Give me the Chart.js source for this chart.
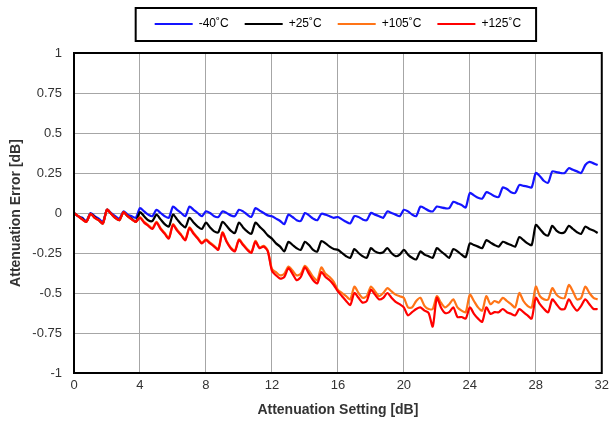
<!DOCTYPE html>
<html>
<head>
<meta charset="utf-8">
<title>Attenuation Error vs Setting</title>
<script src="https://cdn.jsdelivr.net/npm/chart.js@4.4.1/dist/chart.umd.min.js"></script>
<style>
  html, body { margin: 0; padding: 0; background: #fff; }
  #wrap { width: 614px; height: 427px; position: relative; }
</style>
</head>
<body>
<div id="wrap"><canvas id="attnChart"></canvas></div>
<script>
// attenuation setting in dB (0.25 dB step)
const settings = [
  0, 0.25, 0.5, 0.75, 1, 1.25, 1.5, 1.75, 2, 2.25, 2.5, 2.75, 3, 3.25, 3.5, 3.75,
  4, 4.25, 4.5, 4.75, 5, 5.25, 5.5, 5.75, 6, 6.25, 6.5, 6.75, 7, 7.25, 7.5, 7.75,
  8, 8.25, 8.5, 8.75, 9, 9.25, 9.5, 9.75, 10, 10.25, 10.5, 10.75, 11, 11.25, 11.5, 11.75,
  12, 12.25, 12.5, 12.75, 13, 13.25, 13.5, 13.75, 14, 14.25, 14.5, 14.75, 15, 15.25, 15.5, 15.75,
  16, 16.25, 16.5, 16.75, 17, 17.25, 17.5, 17.75, 18, 18.25, 18.5, 18.75, 19, 19.25, 19.5, 19.75,
  20, 20.25, 20.5, 20.75, 21, 21.25, 21.5, 21.75, 22, 22.25, 22.5, 22.75, 23, 23.25, 23.5, 23.75,
  24, 24.25, 24.5, 24.75, 25, 25.25, 25.5, 25.75, 26, 26.25, 26.5, 26.75, 27, 27.25, 27.5, 27.75,
  28, 28.25, 28.5, 28.75, 29, 29.25, 29.5, 29.75, 30, 30.25, 30.5, 30.75, 31, 31.25, 31.5, 31.75
];

// attenuation error in dB, one row per 1 dB
const errMinus40 = [
  0, -0.02, -0.03, -0.05,
  0, -0.02, -0.035, -0.055,
  0.02, 0, -0.02, -0.035,
  0.01, -0.01, -0.02, -0.03,
  0.03, 0.01, -0.01, -0.02,
  0.02, 0, -0.02, -0.03,
  0.04, 0.02, 0, -0.02,
  0.04, 0.02, 0, -0.02,
  0.01, 0, -0.02, -0.025,
  0.01, 0, -0.015, -0.02,
  0.02, 0.01, -0.01, -0.025,
  0.03, 0.015, 0, -0.015,
  -0.02, -0.035, -0.05, -0.07,
  -0.01, -0.025, -0.045, -0.05,
  0, -0.015, -0.035, -0.045,
  -0.005, -0.01, -0.02, -0.03,
  -0.025, -0.04, -0.055, -0.065,
  -0.02, -0.025, -0.04, -0.045,
  0, -0.01, -0.02, -0.03,
  0.01, 0, -0.01, -0.02,
  0.02, 0.01, -0.01, -0.02,
  0.04, 0.03, 0.015, 0.01,
  0.04, 0.035, 0.03, 0.03,
  0.07, 0.06, 0.05, 0.035,
  0.125, 0.11, 0.095, 0.09,
  0.13, 0.12, 0.105, 0.1,
  0.16, 0.15, 0.13, 0.125,
  0.175, 0.17, 0.165, 0.16,
  0.25, 0.23, 0.2, 0.19,
  0.26, 0.255, 0.25, 0.25,
  0.28, 0.27, 0.26, 0.25,
  0.3, 0.32, 0.31, 0.3
];

const errPlus25 = [
  0, -0.02, -0.035, -0.055,
  -0.005, -0.025, -0.045, -0.065,
  0.02, -0.005, -0.03, -0.045,
  0.005, -0.02, -0.035, -0.055,
  0.005, -0.02, -0.045, -0.05,
  -0.01, -0.04, -0.07, -0.085,
  -0.01, -0.04, -0.07, -0.09,
  -0.03, -0.06, -0.085, -0.1,
  -0.06, -0.09, -0.115, -0.12,
  -0.055, -0.08, -0.11, -0.125,
  -0.06, -0.09, -0.115, -0.13,
  -0.06, -0.085, -0.11, -0.14,
  -0.16, -0.19, -0.21, -0.24,
  -0.18, -0.2, -0.22, -0.23,
  -0.18, -0.2, -0.23, -0.24,
  -0.175, -0.19, -0.21, -0.225,
  -0.23, -0.25, -0.27, -0.28,
  -0.225, -0.25, -0.27, -0.28,
  -0.22, -0.24, -0.25, -0.245,
  -0.22, -0.25, -0.27, -0.26,
  -0.23, -0.26, -0.28, -0.29,
  -0.24, -0.26, -0.27, -0.28,
  -0.22, -0.24, -0.26, -0.28,
  -0.225, -0.24, -0.26, -0.275,
  -0.19, -0.2, -0.21, -0.22,
  -0.17, -0.185, -0.2, -0.21,
  -0.18, -0.19, -0.2, -0.21,
  -0.15, -0.17, -0.19, -0.2,
  -0.075, -0.1, -0.13, -0.14,
  -0.08, -0.11, -0.125, -0.12,
  -0.08, -0.1, -0.12, -0.13,
  -0.085, -0.1, -0.11, -0.125
];

const errPlus105 = [
  0, -0.02, -0.04, -0.055,
  -0.005, -0.03, -0.045, -0.065,
  0.02, -0.005, -0.03, -0.045,
  0.005, -0.02, -0.04, -0.055,
  -0.025, -0.055, -0.075, -0.095,
  -0.055, -0.095, -0.125, -0.155,
  -0.07, -0.105, -0.135, -0.165,
  -0.09, -0.125, -0.155, -0.185,
  -0.165, -0.185, -0.205, -0.225,
  -0.12, -0.175, -0.215, -0.235,
  -0.165, -0.195, -0.225, -0.245,
  -0.175, -0.215, -0.205, -0.235,
  -0.35, -0.37, -0.39, -0.38,
  -0.335, -0.36, -0.39, -0.38,
  -0.33, -0.36, -0.4, -0.42,
  -0.34, -0.38, -0.4, -0.43,
  -0.48, -0.5, -0.52, -0.54,
  -0.46, -0.5, -0.53, -0.52,
  -0.46, -0.49, -0.52, -0.5,
  -0.47, -0.49, -0.51, -0.52,
  -0.53, -0.59, -0.59, -0.55,
  -0.53, -0.58, -0.6, -0.6,
  -0.52, -0.56, -0.59, -0.57,
  -0.54, -0.59, -0.61, -0.62,
  -0.51, -0.55, -0.59, -0.61,
  -0.52, -0.57, -0.55, -0.56,
  -0.53, -0.55, -0.57, -0.59,
  -0.5, -0.55, -0.58, -0.59,
  -0.46, -0.52, -0.54, -0.54,
  -0.47, -0.51, -0.53, -0.53,
  -0.45, -0.49, -0.54, -0.53,
  -0.46, -0.5, -0.53, -0.54
];

const errPlus125 = [
  0, -0.02, -0.04, -0.055,
  -0.005, -0.03, -0.045, -0.065,
  0.02, -0.005, -0.03, -0.045,
  0.005, -0.02, -0.04, -0.055,
  -0.03, -0.06, -0.08, -0.1,
  -0.06, -0.1, -0.13, -0.16,
  -0.075, -0.11, -0.14, -0.17,
  -0.095, -0.13, -0.16, -0.19,
  -0.17, -0.19, -0.21, -0.23,
  -0.125, -0.18, -0.22, -0.24,
  -0.17, -0.2, -0.23, -0.25,
  -0.18, -0.22, -0.21, -0.24,
  -0.36, -0.39, -0.41, -0.4,
  -0.345, -0.38, -0.42, -0.4,
  -0.34, -0.38, -0.42, -0.44,
  -0.37, -0.4, -0.42, -0.45,
  -0.49, -0.52, -0.55, -0.575,
  -0.5, -0.53, -0.56, -0.55,
  -0.48, -0.51, -0.54, -0.53,
  -0.5, -0.53, -0.555, -0.57,
  -0.59, -0.64, -0.62, -0.6,
  -0.59, -0.61, -0.625, -0.71,
  -0.53, -0.59, -0.625, -0.62,
  -0.59, -0.65, -0.65, -0.66,
  -0.59, -0.63, -0.66, -0.68,
  -0.59, -0.63, -0.62, -0.62,
  -0.6, -0.62, -0.63, -0.64,
  -0.6, -0.62, -0.64, -0.66,
  -0.53, -0.57, -0.6, -0.62,
  -0.54, -0.57, -0.6, -0.6,
  -0.54, -0.58, -0.61, -0.58,
  -0.54, -0.57, -0.6, -0.6
];

const seriesLabels = ['-40˚C', '+25˚C', '+105˚C', '+125˚C'];
const seriesColors = ['#1414ff', '#000000', '#ff7417', '#ff0000'];
const yTicks = { min: -1, max: 1, step: 0.25 };
const xTicks = { min: 0, max: 32, step: 4 };

const FONT = "'Liberation Sans Narrow', 'Liberation Sans', Arial, sans-serif";
Chart.defaults.font.family = FONT;
Chart.defaults.font.size = 13;
Chart.defaults.color = '#404040';

function toPoints(values) {
  return settings.map((x, i) => ({ x, y: values[i] }));
}

// plot frame + legend box + legend height
const framePlugin = {
  id: 'frame',
  beforeLayout(chart) {
    const legend = chart.legend;
    if (legend && !legend._fitWrapped) {
      const fit = legend.fit;
      legend.fit = function () {
        fit.call(this);
        this.height = 51;
      };
      legend._fitWrapped = true;
    }
  },
  afterDraw(chart) {
    const { ctx, chartArea: a } = chart;
    ctx.save();
    ctx.strokeStyle = '#000';
    ctx.lineWidth = 2;
    ctx.strokeRect(a.left, a.top, a.right - a.left, a.bottom - a.top);

    const boxes = chart.legend && chart.legend.legendHitBoxes;
    if (boxes && boxes.length) {
      const first = boxes[0];
      const last = boxes[boxes.length - 1];
      const mid = first.top + first.height / 2;
      const left = first.left - 19;
      const right = last.left + last.width + 15;
      ctx.strokeRect(left, mid - 16, right - left, 33);
    }
    ctx.restore();
  }
};

const datasets = [errMinus40, errPlus25, errPlus105, errPlus125].map((vals, i) => ({
  label: seriesLabels[i],
  data: toPoints(vals),
  borderColor: seriesColors[i],
  backgroundColor: seriesColors[i],
  borderWidth: 2.2,
  pointRadius: 0,
  tension: 0.25,
  // later series sit on top
  order: 3 - i
}));

new Chart(document.getElementById('attnChart'), {
  type: 'line',
  data: { datasets },
  options: {
    responsive: true,
    maintainAspectRatio: false,
    animation: false,
    layout: { padding: { left: 0, right: 7, top: 2, bottom: 0 } },
    plugins: {
      legend: {
        position: 'top',
        fullSize: false,
        labels: {
          usePointStyle: true,
          pointStyle: 'line',
          pointStyleWidth: 38,
          padding: 16,
          color: '#000',
          font: { size: 12 },
          sort: (a, b) => a.datasetIndex - b.datasetIndex
        }
      },
      tooltip: { enabled: false }
    },
    scales: {
      x: {
        type: 'linear',
        min: xTicks.min,
        max: xTicks.max,
        afterFit(scale) { scale.height = 54; },
        ticks: { stepSize: xTicks.step, padding: 5, color: '#333' },
        grid: { color: '#a6a6a6', lineWidth: 1, drawTicks: false },
        border: { color: '#000', width: 2 },
        title: {
          display: true,
          text: 'Attenuation Setting [dB]',
          color: '#333',
          font: { size: 14, weight: 'bold' },
          padding: { top: 0, bottom: 8 }
        }
      },
      y: {
        type: 'linear',
        min: yTicks.min,
        max: yTicks.max,
        afterFit(scale) { scale.width = 74; },
        ticks: {
          stepSize: yTicks.step,
          padding: 12,
          color: '#333',
          callback: (value) => String(Number(value.toFixed(2)))
        },
        grid: { color: '#a6a6a6', lineWidth: 1, drawTicks: false },
        border: { color: '#000', width: 2 },
        title: {
          display: true,
          text: 'Attenuation Error [dB]',
          color: '#333',
          font: { size: 14, weight: 'bold' },
          padding: { top: 8, bottom: 0 }
        }
      }
    }
  },
  plugins: [framePlugin]
});
</script>
</body>
</html>
